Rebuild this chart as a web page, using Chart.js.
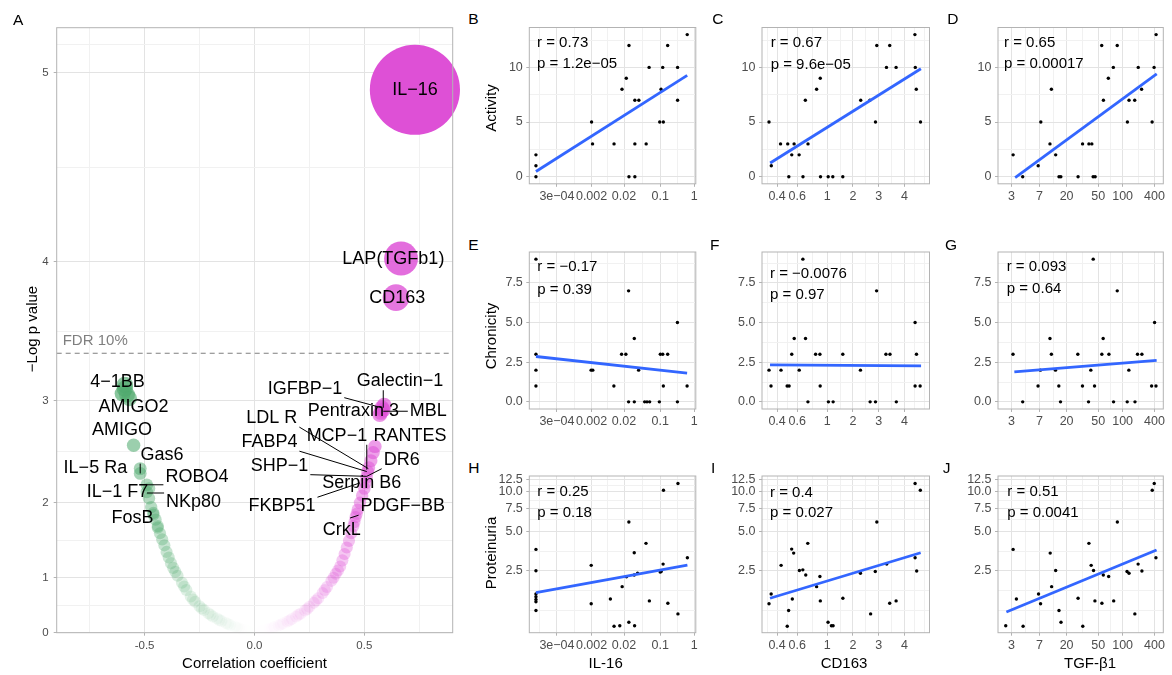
<!DOCTYPE html>
<html>
<head>
<meta charset="utf-8">
<script src="https://cdn.jsdelivr.net/npm/chart.js@4.4.1/dist/chart.umd.min.js"></script>
<style>
  body { margin: 0; background: #fff; }
  #fig { position: relative; width: 1172px; height: 675px; overflow: hidden; font-family: "Liberation Sans", Arial, sans-serif; }
  canvas { position: absolute; }
  .t { position: absolute; white-space: nowrap; line-height: 1; transform: translateY(-50%); color: #000; }
  .c { transform: translate(-50%, -50%); }
  .r { transform: translate(-50%, -50%) rotate(-90deg); }
</style>
</head>
<body>
<div id="fig"></div>
<script>
// ---------- panel A : correlation vs -log p for every protein ----------
const corrCoef = [
  -0.01, -0.02, -0.03, -0.04, -0.05, -0.06, -0.07, -0.08, -0.09, -0.11, -0.12, -0.13, -0.15, -0.16, -0.17,
  -0.19, -0.20, -0.21, -0.23, -0.24, -0.25, -0.27, -0.28, -0.29, -0.31, -0.32, -0.33, -0.35, -0.36, -0.37,
  -0.38, -0.39, -0.40, -0.41, -0.42, -0.43, -0.44, -0.44, -0.45, -0.46, -0.46, -0.47, -0.48, -0.49, -0.49,
  -0.48, -0.52, -0.52, -0.55, -0.57, -0.58, -0.59, -0.60, -0.59,
  0.01, 0.02, 0.03, 0.04, 0.05, 0.06, 0.07, 0.08, 0.09, 0.11, 0.12, 0.13, 0.15, 0.16, 0.17, 0.19, 0.20,
  0.21, 0.23, 0.24, 0.25, 0.27, 0.28, 0.29, 0.31, 0.32, 0.33, 0.35, 0.36, 0.37, 0.38, 0.39, 0.40, 0.41,
  0.42, 0.43, 0.44, 0.45, 0.455, 0.46, 0.465, 0.47, 0.48, 0.49, 0.50, 0.505, 0.51, 0.515, 0.52, 0.53,
  0.54, 0.548, 0.57, 0.575, 0.58, 0.585, 0.59,
  0.644, 0.667, 0.73
];
const negLogP = [
  0.02, 0.03, 0.04, 0.06, 0.07, 0.08, 0.10, 0.11, 0.13, 0.16, 0.18, 0.20, 0.24, 0.26, 0.29,
  0.33, 0.36, 0.39, 0.45, 0.48, 0.52, 0.60, 0.64, 0.69, 0.80, 0.86, 0.92, 1.03, 1.09, 1.15,
  1.22, 1.30, 1.38, 1.47, 1.55, 1.63, 1.70, 1.72, 1.80, 1.86, 1.88, 1.95, 2.05, 2.12, 2.20,
  2.16, 2.32, 2.37, 2.60, 3.02, 3.05, 3.10, 3.06, 3.13,
  0.02, 0.03, 0.04, 0.05, 0.06, 0.08, 0.09, 0.10, 0.12, 0.15, 0.17, 0.19, 0.23, 0.25, 0.28, 0.33, 0.36,
  0.38, 0.44, 0.47, 0.51, 0.58, 0.62, 0.66, 0.75, 0.80, 0.85, 0.95, 1.00, 1.06, 1.11, 1.17, 1.26, 1.35,
  1.44, 1.53, 1.63, 1.72, 1.77, 1.83, 1.87, 1.92, 2.00, 2.08, 2.16, 2.22, 2.28, 2.34, 2.38, 2.45,
  2.53, 2.59, 2.88, 2.90, 2.94, 2.92, 2.96,
  3.77, 4.02, 4.92
];
const fdrCut = 3.377;
const proteinLabels = ['IL−16', 'LAP(TGFb1)', 'CD163', '4−1BB', 'AMIGO2', 'AMIGO', 'Gas6', 'IL−5 Ra', 'ROBO4',
  'IL−1 F7', 'NKp80', 'FosB', 'IGFBP−1', 'Galectin−1', 'Pentraxin 3', 'MBL', 'LDL R', 'MCP−1', 'RANTES',
  'FABP4', 'DR6', 'SHP−1', 'Serpin B6', 'FKBP51', 'PDGF−BB', 'CrkL'];
// label position, then the point its leader goes to (if any)
const labelPlace = [
  [0.730, 4.92], [0.632, 4.015], [0.65, 3.77], [-0.623, 3.15], [-0.55, 2.95], [-0.603, 2.74],
  [-0.421, 2.51, -0.52, 2.32], [-0.724, 2.38], [-0.262, 2.28, -0.489, 2.20], [-0.623, 2.12],
  [-0.277, 2.01, -0.489, 2.11], [-0.555, 1.82], [0.23, 3.10, 0.579, 2.94], [0.662, 3.16, 0.586, 2.94],
  [0.45, 2.91], [0.791, 2.91, 0.586, 2.91], [0.079, 2.85, 0.518, 2.37], [0.375, 2.69, 0.511, 2.36],
  [0.708, 2.69, 0.541, 2.59], [0.068, 2.63, 0.511, 2.34], [0.67, 2.46, 0.511, 2.29],
  [0.114, 2.40, 0.511, 2.29], [0.488, 2.22], [0.125, 1.96, 0.48, 2.22], [0.675, 1.96, 0.435, 1.82],
  [0.397, 1.67]
];

// ---------- panels B-J : per-patient values ----------
const il16B = [9.5e-5, 9.5e-5, 9.5e-5, 0.002, 0.00214, 0.00985, 0.0173, 0.0221, 0.0249, 0.0249, 0.0324, 0.0324,
  0.0324, 0.0387, 0.0536, 0.0611, 0.098, 0.106, 0.119, 0.124, 0.166, 0.324, 0.324, 0.62];
const activityB = [2, 1, 0, 5, 3, 3, 8, 9, 12, 0, 7, 3, 0, 7, 3, 10, 5, 8, 10, 5, 12, 10, 7, 13];
const cd163C = [0.340, 0.356, 0.429, 0.496, 0.507, 0.538, 0.564, 0.620, 0.662, 0.689, 0.721, 0.834, 0.887, 0.891,
  1.024, 1.16, 1.52, 2.26, 2.61, 2.85, 2.91, 3.27, 3.39, 3.64, 4.49, 4.51, 4.56, 4.78];
const activityC = [5, 1, 3, 3, 0, 2, 3, 2, 0, 7, 3, 8, 9, 0, 0, 0, 0, 7, 7, 5, 12, 10, 12, 10, 13, 10, 8, 5];
const tgfD = [3.16, 4.22, 6.73, 7.37, 10.5, 11.1, 13.1, 14.9, 16.0, 27.9, 31.8, 38.2, 41.6, 43.2, 45.8, 55.3, 58.0,
  66.7, 76.8, 85.8, 123, 132, 169, 197, 228, 360, 392, 428];
const activityD = [2, 0, 1, 5, 3, 8, 2, 0, 0, 0, 3, 3, 3, 0, 0, 12, 7, 9, 10, 12, 5, 7, 7, 10, 8, 5, 10, 13];

const il16E = [9.5e-5, 9.5e-5, 9.5e-5, 9.5e-5, 0.00195, 0.00218, 0.00973, 0.0168, 0.0217, 0.0245, 0.0245, 0.0316,
  0.0316, 0.0383, 0.0501, 0.0556, 0.0626, 0.0964, 0.101, 0.119, 0.124, 0.166, 0.32, 0.32, 0.615];
const chronicityE = [9, 3, 2, 1, 2, 2, 1, 3, 3, 7, 0, 4, 0, 2, 0, 0, 0, 0, 3, 3, 1, 3, 5, 0, 1];
const cd163F = [0.340, 0.354, 0.433, 0.490, 0.510, 0.538, 0.565, 0.621, 0.661, 0.691, 0.720, 0.820, 0.882, 0.886,
  1.03, 1.17, 1.52, 2.25, 2.62, 2.85, 2.90, 3.25, 3.40, 3.65, 4.50, 4.50, 4.57, 4.76];
const chronicityF = [2, 1, 2, 1, 1, 3, 4, 2, 9, 4, 0, 3, 3, 1, 0, 0, 3, 2, 0, 0, 7, 3, 3, 0, 5, 1, 3, 1];
const tgfG = [3.15, 4.22, 6.70, 7.26, 10.5, 11.1, 13.0, 14.8, 15.8, 27.7, 31.7, 37.8, 40.4, 43.3, 45.0, 55.5, 57.6,
  67.8, 77.3, 85.8, 122, 131, 171, 191, 231, 352, 401, 426];
const chronicityG = [3, 0, 1, 2, 4, 3, 2, 1, 0, 3, 1, 0, 2, 9, 1, 3, 4, 3, 0, 7, 0, 2, 0, 3, 3, 1, 5, 1];

const il16H = [9.5e-5, 9.5e-5, 9.5e-5, 9.5e-5, 9.5e-5, 9.5e-5, 9.5e-5, 0.00196, 0.00196, 0.00759, 0.00986, 0.0148,
  0.0175, 0.0223, 0.0248, 0.0248, 0.0315, 0.0315, 0.032, 0.0366, 0.0532, 0.0618, 0.1, 0.107, 0.122, 0.125, 0.168,
  0.332, 0.332, 0.627];
const proteinuriaH = [3.64, 2.5, 1.66, 1.58, 1.51, 1.45, 1.24, 2.75, 1.40, 1.52, 0.94, 0.95, 1.89, 2.25, 5.89, 1.01,
  3.43, 2.32, 0.95, 2.39, 4.05, 1.47, 2.44, 2.47, 2.81, 10.3, 1.41, 11.6, 1.17, 3.14];
const cd163I = [0.340, 0.355, 0.434, 0.491, 0.505, 0.537, 0.544, 0.559, 0.623, 0.660, 0.694, 0.718, 0.834, 0.882,
  0.888, 1.02, 1.117, 1.169, 1.523, 2.25, 2.64, 2.84, 2.91, 3.28, 3.39, 3.64, 4.50, 4.50, 4.58, 4.77];
const proteinuriaI = [1.40, 1.66, 2.75, 0.94, 1.24, 3.66, 1.52, 3.41, 2.51, 2.54, 2.32, 4.05, 1.89, 2.26, 1.47, 1.01,
  0.95, 0.95, 1.54, 2.39, 1.17, 2.47, 5.89, 2.81, 1.41, 1.47, 11.6, 3.14, 2.49, 10.3];
const tgfJ = [2.53, 3.16, 3.49, 4.27, 6.80, 7.30, 10.6, 11.2, 13.1, 14.9, 16.1, 27.9, 32.0, 38.2, 40.8, 43.7, 45.5,
  55.6, 57.8, 67.3, 77.6, 86.1, 121, 132, 170, 196, 231, 362, 395, 425];
const proteinuriaJ = [0.95, 3.64, 1.52, 0.94, 1.66, 1.40, 3.41, 1.89, 2.51, 1.24, 1.01, 1.54, 0.94, 4.05, 2.75, 2.51,
  1.47, 1.41, 2.32, 2.26, 1.47, 5.89, 2.47, 2.39, 1.17, 2.81, 2.49, 10.3, 11.6, 3.14];

// fitted lines: [x start, x end], [y start, y end]
const fitX = [[9.5e-5, 0.62], [0.348, 4.80], [3.36, 440], [9.5e-5, 0.615], [0.347, 4.81], [3.28, 438],
  [9.5e-5, 0.627], [0.347, 4.79], [2.58, 437]];
const fitY = [[0.48, 9.27], [1.25, 9.88], [-0.09, 9.41], [2.86, 1.81], [2.33, 2.27], [1.89, 2.61],
  [1.70, 2.76], [1.54, 3.43], [1.21, 3.60]];
const corrR = [0.73, 0.67, 0.65, -0.17, -0.0076, 0.093, 0.25, 0.4, 0.51];
const corrP = ['1.2e−05', '9.6e−05', '0.00017', '0.39', '0.97', '0.64', '0.18', '0.027', '0.0041'];

// tick values and labels
const il16Ticks = [3e-4, 0.002, 0.02, 0.1, 1];
const il16TickLabels = ['3e−04', '0.002', '0.02', '0.1', '1'];
const cd163Ticks = [0.4, 0.6, 1, 2, 3, 4];
const cd163TickLabels = ['0.4', '0.6', '1', '2', '3', '4'];
const tgfTicks = [3, 7, 20, 50, 100, 400];
const tgfTickLabels = ['3', '7', '20', '50', '100', '400'];
const activityTicks = [0, 5, 10];
const chronTicks = [0, 2.5, 5, 7.5];
const protTicks = [2.5, 5, 7.5, 10, 12.5];

// ---------- axis transforms ----------
const R = 1.362;
function linWarp(a, b) { return { f: v => (v - a) / (b - a), inv: t => a + t * (b - a) }; }
function logWarp(a, b) {
  const la = Math.log(a), lb = Math.log(b);
  return { f: v => (Math.log(v) - la) / (lb - la), inv: t => Math.exp(la + t * (lb - la)) };
}
function expWarp(top) {
  const span = Math.pow(R, top) - 1;
  return { f: v => (Math.pow(R, v) - 1) / span, inv: t => Math.log(1 + t * span) / Math.log(R) };
}
// ticks sit at uneven spots on these axes, so interpolate in log between them
function pieceWarp(vals, fracs) {
  const L = vals.map(v => Math.log10(v)), n = L.length;
  return {
    f: v => {
      const l = Math.log10(v); let i = 0;
      while (i < n - 2 && l > L[i + 1]) i++;
      return fracs[i] + (l - L[i]) * (fracs[i + 1] - fracs[i]) / (L[i + 1] - L[i]);
    },
    inv: t => {
      let i = 0;
      while (i < n - 2 && t > fracs[i + 1]) i++;
      return Math.pow(10, L[i] + (t - fracs[i]) * (L[i + 1] - L[i]) / (fracs[i + 1] - fracs[i]));
    }
  };
}
// majors plus ggplot-style minor breaks (midpoints, one step beyond the ends)
function withTicks(w, values, labels) {
  const fr = values.map(w.f);
  const bd = fr[1] - fr[0];
  const ext = [fr[0] - bd].concat(fr, [fr[fr.length - 1] + bd]);
  const minor = [ext[0], ext[ext.length - 1]];
  for (let i = 0; i < ext.length - 1; i++) minor.push((ext[i] + ext[i + 1]) / 2);
  w.ticks = values.map((v, i) => ({ value: v, label: labels[i], minor: false }));
  minor.filter(t => t > 0.004 && t < 0.996).forEach(t => w.ticks.push({ value: w.inv(t), label: '', minor: true }));
  return w;
}

const WARPS = {
  aX: withTicks(linWarp(-0.9, 0.902), [-0.5, 0, 0.5], ['-0.5', '0.0', '0.5']),
  aY: withTicks(expWarp(5.197), [0, 1, 2, 3, 4, 5], ['0', '1', '2', '3', '4', '5']),
  il16: withTicks(pieceWarp(il16Ticks, [0.166, 0.374, 0.569, 0.786, 0.991]), il16Ticks, il16TickLabels),
  cd163: withTicks(pieceWarp(cd163Ticks, [0.09, 0.21, 0.39, 0.543, 0.697, 0.851]), cd163Ticks, cd163TickLabels),
  tgf: withTicks(pieceWarp(tgfTicks, [0.081, 0.251, 0.415, 0.606, 0.754, 0.947]), tgfTicks, tgfTickLabels),
  activity: withTicks(linWarp(-0.65, 13.65), activityTicks, ['0', '5', '10']),
  chronicity: withTicks(linWarp(-0.45, 9.45), chronTicks, ['0.0', '2.5', '5.0', '7.5']),
  proteinuria: withTicks(logWarp(0.84, 13.25), protTicks, ['2.5', '5.0', '7.5', '10.0', '12.5'])
};

class WarpScale extends Chart.LinearScale {
  buildTicks() { return WARPS[this.options.warpKey].ticks.map(t => ({ value: t.value })); }
  getPixelForValue(value) { return this.getPixelForDecimal(WARPS[this.options.warpKey].f(value)); }
  getValueForPixel(pixel) { return WARPS[this.options.warpKey].inv(this.getDecimalForPixel(pixel)); }
}
WarpScale.id = 'warp';
WarpScale.defaults = {};
Chart.register(WarpScale);

Chart.defaults.font.family = '"Liberation Sans", Arial, sans-serif';

const fig = document.getElementById('fig');
const isMinor = (key, i) => !!(WARPS[key].ticks[i] && WARPS[key].ticks[i].minor);

function axisOpts(key, horizontal, fontSize, size, pad) {
  return {
    type: 'warp', warpKey: key, position: horizontal ? 'bottom' : 'left',
    afterFit: s => { if (horizontal) s.height = size; else s.width = size; },
    border: { display: false },
    grid: {
      color: c => isMinor(key, c.index) ? '#f1f1f1' : '#e3e3e3',
      lineWidth: 1, drawTicks: true, tickLength: 3,
      tickColor: c => isMinor(key, c.index) ? 'rgba(0,0,0,0)' : '#b3b3b3'
    },
    ticks: {
      autoSkip: false, maxRotation: 0, minRotation: 0, padding: pad, color: '#4d4d4d',
      font: { size: fontSize },
      callback: (v, i) => WARPS[key].ticks[i].label
    }
  };
}

const framePlugin = {
  id: 'frame',
  afterDatasetsDraw(chart) {
    const a = chart.chartArea, ctx = chart.ctx;
    ctx.save();
    ctx.strokeStyle = '#b3b3b3'; ctx.lineWidth = 1;
    ctx.strokeRect(a.left, a.top, a.right - a.left, a.bottom - a.top);
    ctx.restore();
  }
};

function makeChart(rect, plot, datasets, xKey, yKey, tickSize, xPad, yPad, extra) {
  const L = rect[0], T = rect[1], W = rect[2] - rect[0], H = rect[3] - rect[1];
  const yW = 30, xH = 20;
  const cv = document.createElement('canvas');
  cv.width = W; cv.height = H;
  cv.style.left = L + 'px'; cv.style.top = T + 'px';
  fig.appendChild(cv);
  return new Chart(cv, {
    type: 'scatter',
    data: { datasets },
    options: {
      responsive: false, animation: false, devicePixelRatio: 1, events: [],
      layout: {
        autoPadding: false,
        padding: { left: plot[0] - L - yW, top: plot[1] - T, right: L + W - plot[2], bottom: T + H - plot[3] - xH }
      },
      scales: { x: axisOpts(xKey, true, tickSize, xH, xPad), y: axisOpts(yKey, false, tickSize, yW, yPad) },
      plugins: { legend: { display: false }, tooltip: { enabled: false } }
    },
    plugins: [framePlugin].concat(extra || [])
  });
}

function addText(txt, x, y, size, cls, color) {
  const d = document.createElement('div');
  d.className = 't' + (cls ? ' ' + cls : '');
  d.textContent = txt;
  d.style.left = x + 'px'; d.style.top = y + 'px'; d.style.fontSize = size + 'px';
  if (color) d.style.color = color;
  fig.appendChild(d);
}

// ---------- panel A ----------
function bubbleColor(r) {
  const t = Math.min(1, Math.abs(r) / 0.73);
  const a = Math.pow(t, 2);
  return r >= 0 ? `rgba(222,80,214,${a.toFixed(3)})` : `rgba(80,170,110,${a.toFixed(3)})`;
}
function bubbleRadius(y) { return Math.sqrt(36 + 0.024 * Math.pow(10, y)); }

const volcanoLabels = {
  id: 'volcanoLabels',
  afterDatasetsDraw(chart) {
    const { ctx, chartArea } = chart, x = chart.scales.x, y = chart.scales.y;
    ctx.save();
    ctx.font = '15px "Liberation Sans", Arial, sans-serif';
    ctx.fillStyle = '#7f7f7f'; ctx.textAlign = 'left'; ctx.textBaseline = 'middle';
    ctx.fillText('FDR 10%', chartArea.left + 6, y.getPixelForValue(fdrCut) - 12.5);
    ctx.font = '18px "Liberation Sans", Arial, sans-serif';
    ctx.strokeStyle = '#000'; ctx.lineWidth = 1;
    proteinLabels.forEach((name, i) => {
      const p = labelPlace[i];
      if (p.length < 4) return;
      const px = x.getPixelForValue(p[0]), py = y.getPixelForValue(p[1]);
      const tx = x.getPixelForValue(p[2]), ty = y.getPixelForValue(p[3]);
      const hw = ctx.measureText(name).width / 2 + 2, hh = 9;
      const cx = Math.min(Math.max(tx, px - hw), px + hw), cy = Math.min(Math.max(ty, py - hh), py + hh);
      if (Math.hypot(tx - cx, ty - cy) > 5) {
        ctx.beginPath(); ctx.moveTo(cx, cy); ctx.lineTo(tx, ty); ctx.stroke();
      }
    });
    ctx.fillStyle = '#000'; ctx.textAlign = 'center';
    proteinLabels.forEach((name, i) => {
      const p = labelPlace[i];
      ctx.fillText(name, x.getPixelForValue(p[0]), y.getPixelForValue(p[1]));
    });
    ctx.restore();
  }
};

makeChart([0, 10, 460, 660], [56.7, 27.7, 452.7, 632.7], [
  {
    data: [{ x: -0.9, y: fdrCut }, { x: 0.902, y: fdrCut }], showLine: true, borderColor: '#7f7f7f',
    borderWidth: 1.2, borderDash: [5, 4], pointRadius: 0, order: 0
  },
  {
    data: corrCoef.map((c, i) => ({ x: c, y: negLogP[i] })),
    pointRadius: c => c.raw ? bubbleRadius(c.raw.y) : 3,
    backgroundColor: c => c.raw ? bubbleColor(c.raw.x) : '#ccc',
    borderWidth: 0, order: 1
  }
], 'aX', 'aY', 11.5, 3, 5, [volcanoLabels]);

addText('A', 13, 20, 15.5);
addText('Correlation coefficient', 254.5, 661.7, 15, 'c');
addText('−Log p value', 31, 329, 15, 'r');

// ---------- panels B-J ----------
const cols = [
  { key: 'il16', left: 529.3, right: 695.8, xTitle: 'IL-16', xTitleX: 605.7 },
  { key: 'cd163', left: 762, right: 929.5, xTitle: 'CD163', xTitleX: 844 },
  { key: 'tgf', left: 998, right: 1163.3, xTitle: 'TGF-β1', xTitleX: 1090 }
];
const rows = [
  { key: 'activity', top: 27.5, bottom: 183.8, yTitle: 'Activity', yTitleY: 107.5 },
  { key: 'chronicity', top: 252, bottom: 409, yTitle: 'Chronicity', yTitleY: 335.7 },
  { key: 'proteinuria', top: 476, bottom: 632.7, yTitle: 'Proteinuria', yTitleY: 553.3 }
];
const panelData = [
  [il16B, activityB], [cd163C, activityC], [tgfD, activityD],
  [il16E, chronicityE], [cd163F, chronicityF], [tgfG, chronicityG],
  [il16H, proteinuriaH], [cd163I, proteinuriaI], [tgfJ, proteinuriaJ]
];
const letters = ['B', 'C', 'D', 'E', 'F', 'G', 'H', 'I', 'J'];
const letterPos = [[468.3, 19], [712.3, 19], [947.3, 19], [468.3, 245], [710, 245], [945, 245],
  [468.3, 468], [711, 468], [942.7, 468]];
const statPos = [[537, 40.5, 61.7], [770.7, 40.5, 62.5], [1004, 40.8, 61.7],
  [537.3, 264.7, 288], [770, 271.7, 293.3], [1006.7, 264.7, 286.8],
  [537.3, 490, 511.3], [770, 490.5, 511.3], [1007.3, 489.7, 511.3]];

panelData.forEach((pd, k) => {
  const col = cols[k % 3], row = rows[Math.floor(k / 3)];
  const plot = [col.left, row.top, col.right, row.bottom];
  const rect = [Math.round(col.left - 40), Math.round(row.top - 14), Math.min(1172, Math.round(col.right + 9)), Math.round(row.bottom + 22)];
  makeChart(rect, plot, [
    {
      data: fitX[k].map((x, i) => ({ x, y: fitY[k][i] })), showLine: true, borderColor: '#3366ff',
      borderWidth: 2.8, pointRadius: 0, order: 0
    },
    {
      data: pd[0].map((x, i) => ({ x, y: pd[1][i] })), backgroundColor: '#000', pointRadius: 1.7,
      borderWidth: 0, order: 1
    }
  ], col.key, row.key, 12.5, 2, 3.5);
  addText(letters[k], letterPos[k][0], letterPos[k][1], 15.5);
  const r = corrR[k];
  addText('r = ' + (r < 0 ? '−' : '') + String(Math.abs(r)), statPos[k][0], statPos[k][1], 15);
  addText('p = ' + corrP[k], statPos[k][0], statPos[k][2], 15);
});
rows.forEach(row => addText(row.yTitle, 489.5, row.yTitleY, 15, 'r'));
cols.forEach(col => addText(col.xTitle, col.xTitleX, 662, 15, 'c'));
</script>
</body>
</html>
